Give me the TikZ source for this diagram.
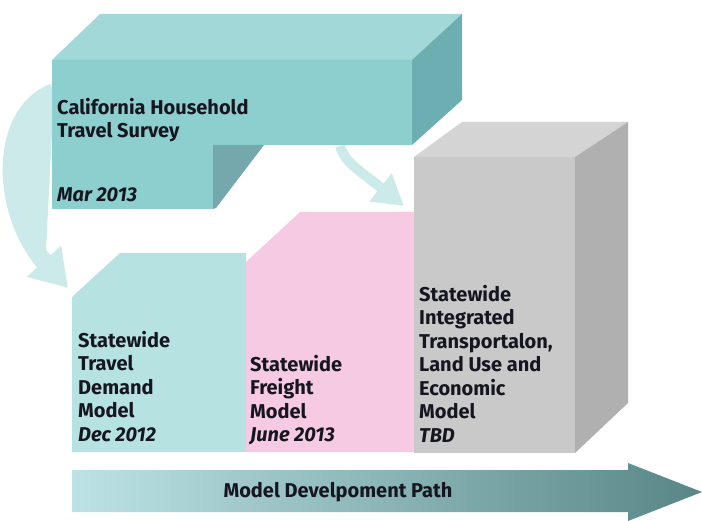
\documentclass[tikz,border=0pt]{standalone}
\usepackage{fontspec}
\newfontfamily\boxfont{Fira Sans}
\usetikzlibrary{arrows.meta,positioning}
\definecolor{surveyfront}{RGB}{141,207,207}
\definecolor{surveytop}{RGB}{163,216,216}
\definecolor{surveyside}{RGB}{108,174,177}
\definecolor{surveystep}{RGB}{116,168,173}
\definecolor{travelfill}{RGB}{182,226,226}
\definecolor{freightfill}{RGB}{246,202,226}
\definecolor{intfront}{RGB}{201,201,201}
\definecolor{inttop}{RGB}{212,212,212}
\definecolor{intside}{RGB}{176,176,176}
\definecolor{flowpale}{RGB}{204,234,234}
\definecolor{pathlight}{RGB}{188,226,229}
\definecolor{pathdark}{RGB}{88,134,134}
\definecolor{inkdark}{RGB}{22,22,32}
\tikzset{
	lbl/.style={font=\boxfont\bfseries\fontsize{20}{23.5}\selectfont, text=inkdark,
		align=left, anchor=north west, inner sep=0pt},
	flow/.style={draw=flowpale, fill=flowpale},
}

\begin{document}
\begin{tikzpicture}[x=1pt,y=-1pt]
			\useasboundingbox (0,0) rectangle (702,521);
			% curved arrows, behind the boxes
			\coordinate (svleft) at (54,92);
			\coordinate (tdin) at (68,288);
			\coordinate (svright) at (340,146);
			\coordinate (intin) at (404,206);
			\draw[flow, line width=18pt, -{Triangle[width=44pt,length=36pt]}]
				(svleft) .. controls (-4,115) and (2,215) .. (tdin);
			\draw[flow, line width=10pt, -{Triangle[width=34pt,length=30pt]}]
				(svright) .. controls (345,162) and (356,168) .. (intin);
			% household survey block
			\fill[surveytop] (52,60) -- (100,14) -- (462,14) -- (412,60) -- cycle;
			\fill[surveyside] (412,60) -- (462,14) -- (462,100) -- (412,145) -- cycle;
			\fill[surveyfront] (52,60) -- (412,60) -- (412,145) -- (213,145)
				-- (213,209) -- (52,209) -- cycle;
			\fill[surveystep] (213,145) -- (264,145) -- (216,208) -- (213,209) -- cycle;
			% model blocks
			\fill[travelfill] (72,452) -- (72,297) -- (120,253) -- (246,253) -- (246,452) -- cycle;
			\fill[freightfill] (246,452) -- (246,262) -- (300,212) -- (414,212) -- (414,452) -- cycle;
			\fill[inttop] (414,157) -- (462,122) -- (628,122) -- (575,157) -- cycle;
			\fill[intside] (575,157) -- (628,122) -- (628,403) -- (575,453) -- cycle;
			\fill[intfront] (414,157) rectangle (575,453);
			% development path
			\shade[left color=pathlight, right color=pathdark]
				(72,470) -- (628,470) -- (628,463) -- (702,492) -- (628,521)
				-- (628,512) -- (72,512) -- cycle;

			\node[lbl] (chts) at (57,98) {California Household\\Travel Survey};
			\node[lbl] (chtsdate) at (57,187) {\itshape Mar 2013};
			\node[lbl] (stdm) at (78,331) {Statewide\\Travel\\Demand\\Model\\\itshape Dec 2012};
			\node[lbl] (sfm) at (250,355) {Statewide\\Freight\\Model\\\itshape June 2013};
			\node[lbl] (situm) at (419,285) {Statewide\\Integrated\\Transportalon,\\Land Use and\\Economic\\Model\\\itshape TBD};
			\node[lbl, anchor=center] (mdp) at (338,492) {Model Develpoment Path};
		\end{tikzpicture}
\end{document}
